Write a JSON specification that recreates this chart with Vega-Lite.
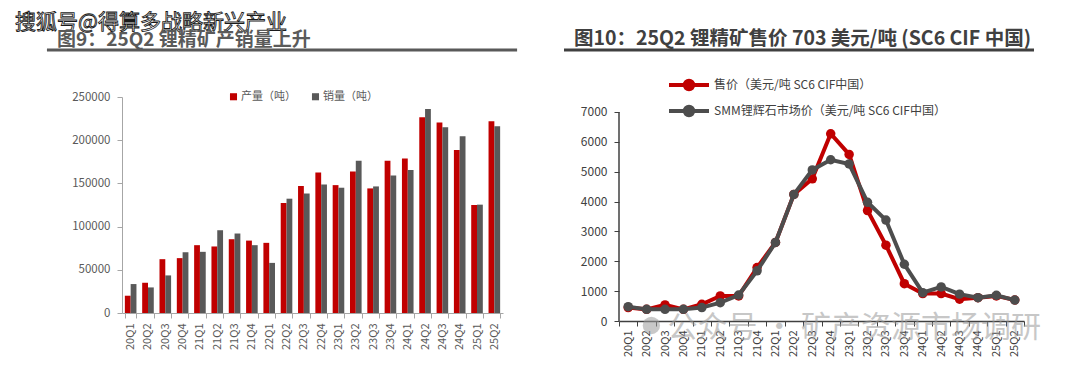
{
  "$schema": "https://vega.github.io/schema/vega-lite/v6.json",
  "background": "white",
  "padding": {"left": 15, "top": 11, "right": 0, "bottom": 0},
  "config": {
    "view": {"stroke": null},
    "font": "Noto Sans CJK SC",
    "axis": {"labelFont": "Noto Sans CJK SC"},
    "legend": {"labelFont": "Noto Sans CJK SC"},
    "title": {"font": "Noto Sans CJK SC"}
  },
  "datasets": {
    "bars": [
      {"q": "20Q1", "s": "产量（吨）", "v": 20000}, {"q": "20Q1", "s": "销量（吨）", "v": 33500},
      {"q": "20Q2", "s": "产量（吨）", "v": 35000}, {"q": "20Q2", "s": "销量（吨）", "v": 29600},
      {"q": "20Q3", "s": "产量（吨）", "v": 62300}, {"q": "20Q3", "s": "销量（吨）", "v": 43500},
      {"q": "20Q4", "s": "产量（吨）", "v": 63500}, {"q": "20Q4", "s": "销量（吨）", "v": 70400},
      {"q": "21Q1", "s": "产量（吨）", "v": 78500}, {"q": "21Q1", "s": "销量（吨）", "v": 70800},
      {"q": "21Q2", "s": "产量（吨）", "v": 77000}, {"q": "21Q2", "s": "销量（吨）", "v": 95800},
      {"q": "21Q3", "s": "产量（吨）", "v": 85400}, {"q": "21Q3", "s": "销量（吨）", "v": 92000},
      {"q": "21Q4", "s": "产量（吨）", "v": 83800}, {"q": "21Q4", "s": "销量（吨）", "v": 78500},
      {"q": "22Q1", "s": "产量（吨）", "v": 81200}, {"q": "22Q1", "s": "销量（吨）", "v": 58000},
      {"q": "22Q2", "s": "产量（吨）", "v": 127300}, {"q": "22Q2", "s": "销量（吨）", "v": 132300},
      {"q": "22Q3", "s": "产量（吨）", "v": 147000}, {"q": "22Q3", "s": "销量（吨）", "v": 138300},
      {"q": "22Q4", "s": "产量（吨）", "v": 162700}, {"q": "22Q4", "s": "销量（吨）", "v": 148800},
      {"q": "23Q1", "s": "产量（吨）", "v": 148000}, {"q": "23Q1", "s": "销量（吨）", "v": 145000},
      {"q": "23Q2", "s": "产量（吨）", "v": 163800}, {"q": "23Q2", "s": "销量（吨）", "v": 176200},
      {"q": "23Q3", "s": "产量（吨）", "v": 144200}, {"q": "23Q3", "s": "销量（吨）", "v": 146500},
      {"q": "23Q4", "s": "产量（吨）", "v": 176200}, {"q": "23Q4", "s": "销量（吨）", "v": 159200},
      {"q": "24Q1", "s": "产量（吨）", "v": 178800}, {"q": "24Q1", "s": "销量（吨）", "v": 165400},
      {"q": "24Q2", "s": "产量（吨）", "v": 226500}, {"q": "24Q2", "s": "销量（吨）", "v": 236200},
      {"q": "24Q3", "s": "产量（吨）", "v": 220400}, {"q": "24Q3", "s": "销量（吨）", "v": 215000},
      {"q": "24Q4", "s": "产量（吨）", "v": 188800}, {"q": "24Q4", "s": "销量（吨）", "v": 204600},
      {"q": "25Q1", "s": "产量（吨）", "v": 125000}, {"q": "25Q1", "s": "销量（吨）", "v": 125400},
      {"q": "25Q2", "s": "产量（吨）", "v": 222000}, {"q": "25Q2", "s": "销量（吨）", "v": 216200}
    ],
    "prices": [
      {"q": "20Q1", "s": "售价（美元/吨  SC6 CIF中国）", "v": 450}, {"q": "20Q1", "s": "SMM锂辉石市场价（美元/吨 SC6 CIF中国）", "v": 480},
      {"q": "20Q2", "s": "售价（美元/吨  SC6 CIF中国）", "v": 390}, {"q": "20Q2", "s": "SMM锂辉石市场价（美元/吨 SC6 CIF中国）", "v": 390},
      {"q": "20Q3", "s": "售价（美元/吨  SC6 CIF中国）", "v": 540}, {"q": "20Q3", "s": "SMM锂辉石市场价（美元/吨 SC6 CIF中国）", "v": 390},
      {"q": "20Q4", "s": "售价（美元/吨  SC6 CIF中国）", "v": 390}, {"q": "20Q4", "s": "SMM锂辉石市场价（美元/吨 SC6 CIF中国）", "v": 390},
      {"q": "21Q1", "s": "售价（美元/吨  SC6 CIF中国）", "v": 560}, {"q": "21Q1", "s": "SMM锂辉石市场价（美元/吨 SC6 CIF中国）", "v": 450},
      {"q": "21Q2", "s": "售价（美元/吨  SC6 CIF中国）", "v": 840}, {"q": "21Q2", "s": "SMM锂辉石市场价（美元/吨 SC6 CIF中国）", "v": 615},
      {"q": "21Q3", "s": "售价（美元/吨  SC6 CIF中国）", "v": 840}, {"q": "21Q3", "s": "SMM锂辉石市场价（美元/吨 SC6 CIF中国）", "v": 870},
      {"q": "21Q4", "s": "售价（美元/吨  SC6 CIF中国）", "v": 1790}, {"q": "21Q4", "s": "SMM锂辉石市场价（美元/吨 SC6 CIF中国）", "v": 1680},
      {"q": "22Q1", "s": "售价（美元/吨  SC6 CIF中国）", "v": 2630}, {"q": "22Q1", "s": "SMM锂辉石市场价（美元/吨 SC6 CIF中国）", "v": 2630},
      {"q": "22Q2", "s": "售价（美元/吨  SC6 CIF中国）", "v": 4240}, {"q": "22Q2", "s": "SMM锂辉石市场价（美元/吨 SC6 CIF中国）", "v": 4240},
      {"q": "22Q3", "s": "售价（美元/吨  SC6 CIF中国）", "v": 4760}, {"q": "22Q3", "s": "SMM锂辉石市场价（美元/吨 SC6 CIF中国）", "v": 5060},
      {"q": "22Q4", "s": "售价（美元/吨  SC6 CIF中国）", "v": 6270}, {"q": "22Q4", "s": "SMM锂辉石市场价（美元/吨 SC6 CIF中国）", "v": 5400},
      {"q": "23Q1", "s": "售价（美元/吨  SC6 CIF中国）", "v": 5580}, {"q": "23Q1", "s": "SMM锂辉石市场价（美元/吨 SC6 CIF中国）", "v": 5260},
      {"q": "23Q2", "s": "售价（美元/吨  SC6 CIF中国）", "v": 3700}, {"q": "23Q2", "s": "SMM锂辉石市场价（美元/吨 SC6 CIF中国）", "v": 3975},
      {"q": "23Q3", "s": "售价（美元/吨  SC6 CIF中国）", "v": 2540}, {"q": "23Q3", "s": "SMM锂辉石市场价（美元/吨 SC6 CIF中国）", "v": 3380},
      {"q": "23Q4", "s": "售价（美元/吨  SC6 CIF中国）", "v": 1250}, {"q": "23Q4", "s": "SMM锂辉石市场价（美元/吨 SC6 CIF中国）", "v": 1900},
      {"q": "24Q1", "s": "售价（美元/吨  SC6 CIF中国）", "v": 920}, {"q": "24Q1", "s": "SMM锂辉石市场价（美元/吨 SC6 CIF中国）", "v": 950},
      {"q": "24Q2", "s": "售价（美元/吨  SC6 CIF中国）", "v": 920}, {"q": "24Q2", "s": "SMM锂辉石市场价（美元/吨 SC6 CIF中国）", "v": 1140},
      {"q": "24Q3", "s": "售价（美元/吨  SC6 CIF中国）", "v": 730}, {"q": "24Q3", "s": "SMM锂辉石市场价（美元/吨 SC6 CIF中国）", "v": 900},
      {"q": "24Q4", "s": "售价（美元/吨  SC6 CIF中国）", "v": 780}, {"q": "24Q4", "s": "SMM锂辉石市场价（美元/吨 SC6 CIF中国）", "v": 780},
      {"q": "25Q1", "s": "售价（美元/吨  SC6 CIF中国）", "v": 840}, {"q": "25Q1", "s": "SMM锂辉石市场价（美元/吨 SC6 CIF中国）", "v": 860},
      {"q": "25Q2", "s": "售价（美元/吨  SC6 CIF中国）", "v": 703}, {"q": "25Q2", "s": "SMM锂辉石市场价（美元/吨 SC6 CIF中国）", "v": 700}
    ]
  },
  "columns": 2,
  "align": "none",
  "bounds": "full",
  "spacing": 43,
  "resolve": {"scale": {"color": "independent"}, "legend": {"color": "independent"}},
  "concat": [
    {
      "width": 381,
      "height": 216,
      "title": {"text": "图9：25Q2 锂精矿产销量上升", "anchor": "start", "frame": "group", "dx": -65, "offset": -38, "fontSize": 19, "fontWeight": "bold", "color": "#5a5a5a"},
      "resolve": {"scale": {"x": "independent", "y": "independent"}},
      "layer": [
        {
          "data": {"name": "bars"},
          "mark": {"type": "bar"},
          "encoding": {
            "x": {"field": "q", "type": "nominal", "sort": null,
              "scale": {"paddingInner": 0.33, "paddingOuter": 0.165},
              "axis": {"title": null, "labelAngle": -90, "tickBand": "extent", "labelFontSize": 11, "labelColor": "#595959", "domainColor": "#a6a6a6", "tickColor": "#a6a6a6", "tickSize": 5, "labelPadding": 5}},
            "xOffset": {"field": "s", "type": "nominal", "sort": ["产量（吨）", "销量（吨）"]},
            "y": {"field": "v", "type": "quantitative", "scale": {"domain": [0, 250000], "nice": false},
              "axis": {"title": null, "values": [0, 50000, 100000, 150000, 200000, 250000], "format": "d", "grid": false, "labelFontSize": 11.5, "labelColor": "#595959", "domainColor": "#a6a6a6", "tickColor": "#a6a6a6", "tickSize": 5, "labelPadding": 7}},
            "color": {"field": "s", "type": "nominal",
              "scale": {"domain": ["产量（吨）", "销量（吨）"], "range": ["#C00000", "#595959"]},
              "legend": {"title": null, "orient": "none", "direction": "horizontal", "legendX": 106, "legendY": -6, "symbolType": "square", "symbolSize": 50, "symbolStrokeWidth": 0, "labelFontSize": 11, "labelColor": "#595959", "columnPadding": 14, "labelOffset": 2}}
          }
        },
        {
          "data": {"values": [{}]},
          "mark": {"type": "rule", "stroke": "#595959", "strokeWidth": 3, "clip": false},
          "encoding": {
            "x": {"datum": -0.197, "type": "quantitative", "scale": {"domain": [0, 1], "nice": false}, "axis": null},
            "x2": {"datum": 1.037},
            "y": {"datum": 1.2176, "type": "quantitative", "scale": {"domain": [0, 1], "nice": false}, "axis": null}
          }
        },
        {
          "data": {"values": [{}]},
          "mark": {"type": "text", "text": "搜狐号@得算多战略新兴产业", "align": "left", "baseline": "middle", "fontSize": 21, "fill": "white", "stroke": "#1a1a1a", "strokeWidth": 0.9, "clip": false},
          "encoding": {
            "x": {"datum": -0.2808, "type": "quantitative", "scale": {"domain": [0, 1], "nice": false}, "axis": null},
            "y": {"datum": 1.3426, "type": "quantitative", "scale": {"domain": [0, 1], "nice": false}, "axis": null}
          }
        }
      ]
    },
    {
      "width": 405,
      "height": 224,
      "title": {"text": "图10：25Q2 锂精矿售价 703 美元/吨 (SC6 CIF 中国)", "anchor": "start", "frame": "group", "dx": -45, "offset": -1, "fontSize": 19.5, "fontWeight": "bold", "color": "#404040"},
      "resolve": {"scale": {"x": "independent", "y": "independent"}},
      "layer": [
        {
          "data": {"name": "prices"},
          "encoding": {
            "x": {"field": "q", "type": "nominal", "sort": null, "bandPosition": 0.5,
              "scale": {"type": "band", "paddingInner": 0, "paddingOuter": 0},
              "axis": {"title": null, "labelAngle": -90, "tickBand": "extent", "labelFontSize": 11, "labelColor": "#404040", "domainColor": "#404040", "domainWidth": 1.5, "tickColor": "#404040", "tickSize": 5, "labelPadding": 4}},
            "y": {"field": "v", "type": "quantitative", "scale": {"domain": [0, 7502], "nice": false},
              "axis": {"title": null, "values": [0, 1000, 2000, 3000, 4000, 5000, 6000, 7000], "format": "d", "grid": false, "domain": false, "labelFontSize": 12, "labelColor": "#404040", "tickColor": "#404040", "tickSize": 5, "labelPadding": 7}},
            "color": {"field": "s", "type": "nominal",
              "scale": {"domain": ["售价（美元/吨  SC6 CIF中国）", "SMM锂辉石市场价（美元/吨 SC6 CIF中国）"], "range": ["#C00000", "#4D4D4D"]},
              "legend": {"title": null, "orient": "none", "direction": "vertical", "legendX": 63, "legendY": -19,
                "symbolType": "M -4 0 L 4 0 M -0.85 0 A 0.85 0.85 0 1 1 0.85 0 A 0.85 0.85 0 1 1 -0.85 0 Z", "symbolSize": 100, "symbolStrokeWidth": 4,
                "labelOffset": 18, "rowPadding": 0, "labelFontSize": 12, "labelColor": "#404040", "labelLimit": 400,
                "encode": {"symbols": {"update": {"fill": {"scale": "color", "field": "value"}, "stroke": {"scale": "color", "field": "value"}}}}}}
          },
          "resolve": {"scale": {"x": "shared", "y": "shared", "color": "shared"}},
          "layer": [
            {"transform": [{"filter": {"field": "s", "equal": "售价（美元/吨  SC6 CIF中国）"}}], "mark": {"type": "line", "strokeWidth": 4}},
            {"transform": [{"filter": {"field": "s", "equal": "售价（美元/吨  SC6 CIF中国）"}}], "mark": {"type": "point", "filled": true, "size": 90, "opacity": 1}},
            {"transform": [{"filter": {"field": "s", "equal": "SMM锂辉石市场价（美元/吨 SC6 CIF中国）"}}], "mark": {"type": "line", "strokeWidth": 4}},
            {"transform": [{"filter": {"field": "s", "equal": "SMM锂辉石市场价（美元/吨 SC6 CIF中国）"}}], "mark": {"type": "point", "filled": true, "size": 90, "opacity": 1}}
          ]
        },
        {
          "data": {"values": [{}]},
          "mark": {"type": "rule", "stroke": "#404040", "strokeWidth": 1.5, "clip": false},
          "encoding": {
            "x": {"datum": 0, "type": "quantitative", "scale": {"domain": [0, 1], "nice": false}, "axis": null},
            "y": {"datum": 0, "type": "quantitative", "scale": {"domain": [0, 1], "nice": false}, "axis": null},
            "y2": {"datum": 0.933}
          }
        },
        {
          "data": {"values": [{}]},
          "mark": {"type": "rule", "stroke": "#404040", "strokeWidth": 3, "clip": false},
          "encoding": {
            "x": {"datum": -0.1358, "type": "quantitative", "scale": {"domain": [0, 1], "nice": false}, "axis": null},
            "x2": {"datum": 1.0247},
            "y": {"datum": 1.2098, "type": "quantitative", "scale": {"domain": [0, 1], "nice": false}, "axis": null}
          }
        },
        {
          "data": {"values": [{}]},
          "mark": {"type": "point", "filled": true, "size": 300, "color": "#9a9a9a", "opacity": 0.55, "clip": false},
          "encoding": {
            "x": {"datum": 0.08, "type": "quantitative", "scale": {"domain": [0, 1], "nice": false}, "axis": null},
            "y": {"datum": -0.02, "type": "quantitative", "scale": {"domain": [0, 1], "nice": false}, "axis": null}
          }
        },
        {
          "data": {"values": [{}]},
          "mark": {"type": "text", "text": "公众号 · 矿产资源市场调研", "align": "left", "baseline": "middle", "fontSize": 30, "fill": "#9a9a9a", "opacity": 0.55, "clip": false},
          "encoding": {
            "x": {"datum": 0.12, "type": "quantitative", "scale": {"domain": [0, 1], "nice": false}, "axis": null},
            "y": {"datum": -0.031, "type": "quantitative", "scale": {"domain": [0, 1], "nice": false}, "axis": null}
          }
        }
      ]
    }
  ]
}
